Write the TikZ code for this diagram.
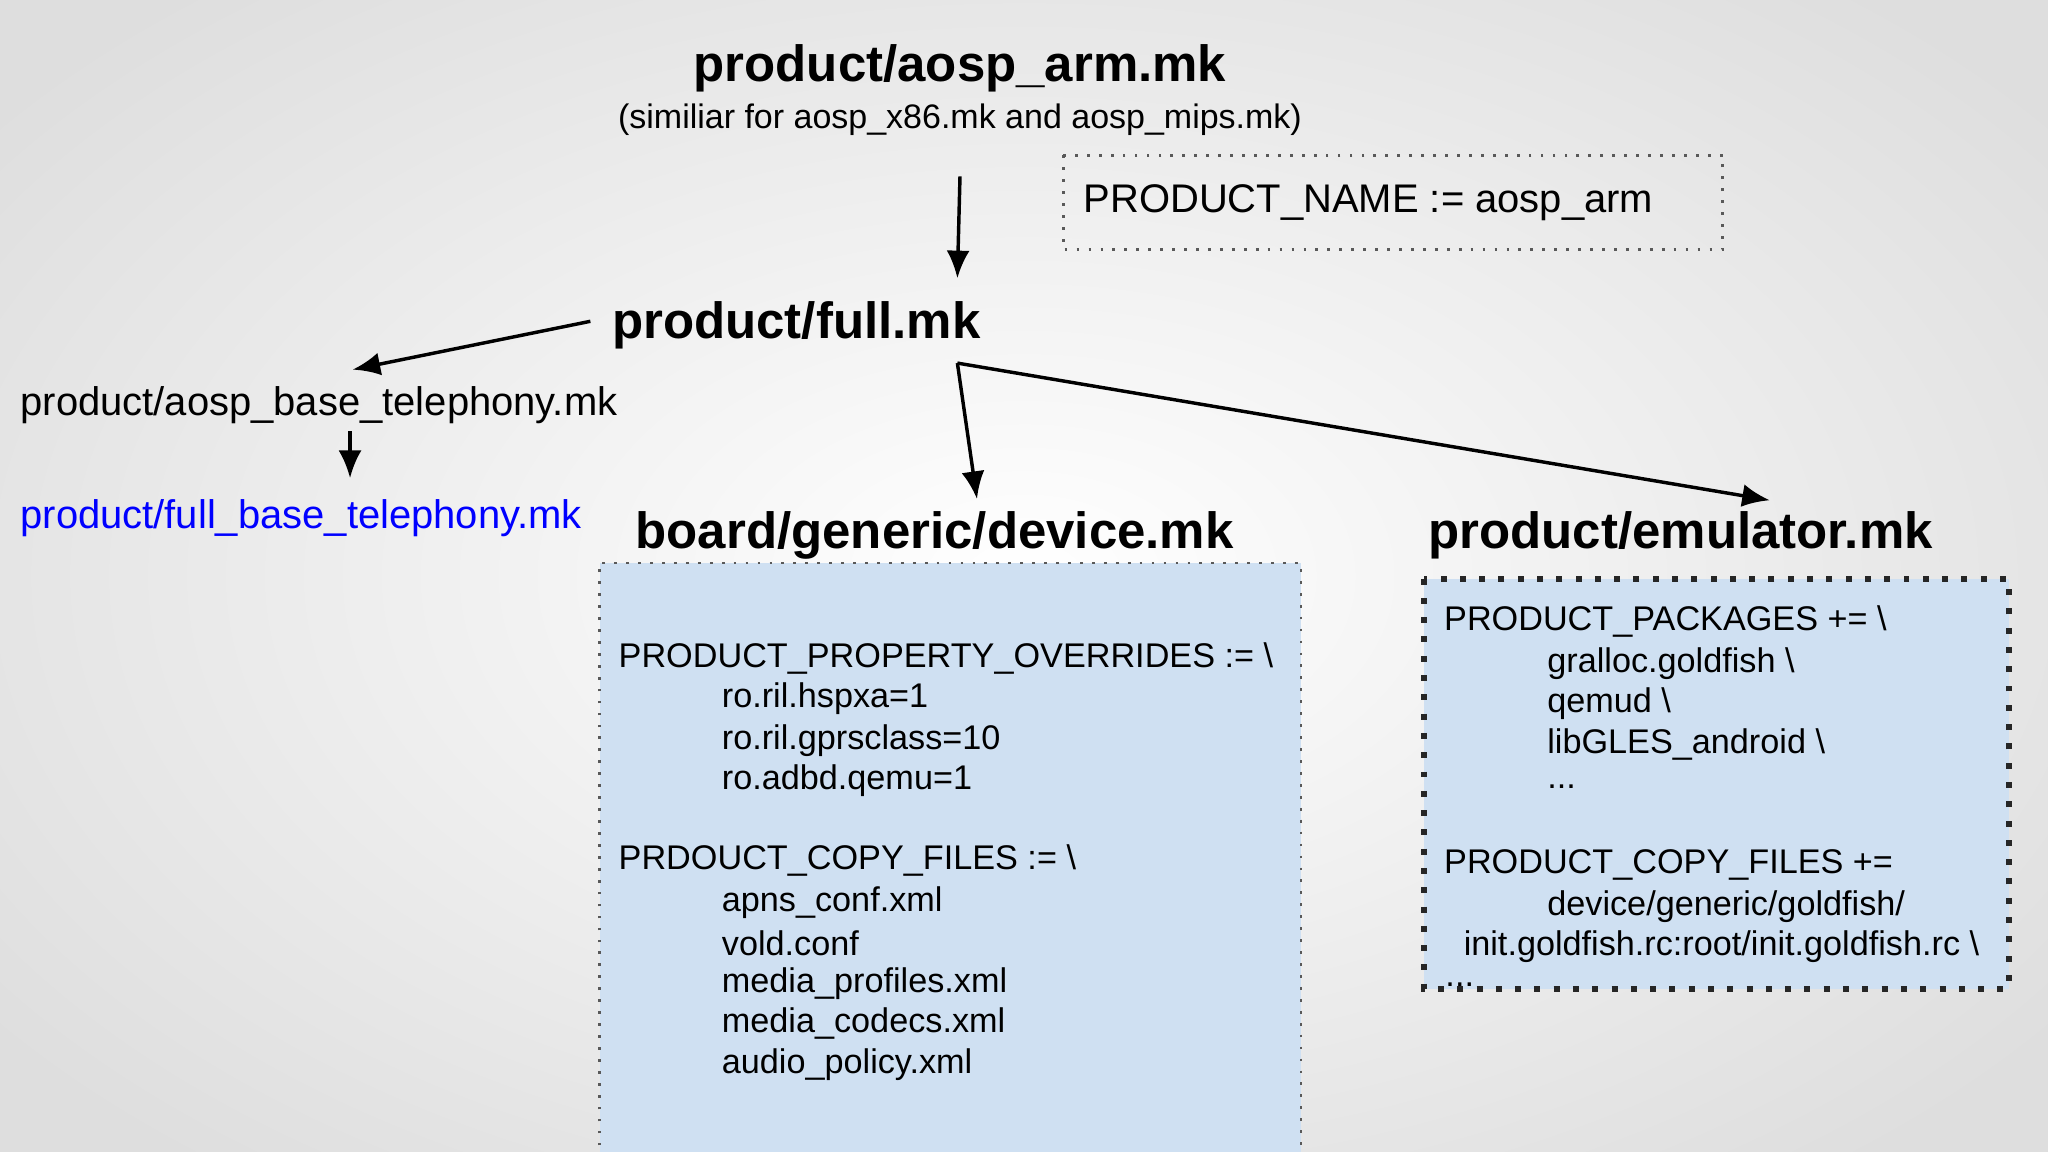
\documentclass[tikz,border=0pt]{standalone}
\usepackage{fontspec}
\setmainfont{Liberation Sans}
\usetikzlibrary{arrows.meta}
\definecolor{boxfill}{RGB}{207,224,242}
\definecolor{bgout}{RGB}{222,222,222}
\begin{document}
\begin{tikzpicture}[x=0.01cm,y=-0.01cm,
  title/.style={font=\fontsize{11.1}{13}\selectfont\bfseries,inner sep=0},
  txt/.style={font=\fontsize{8.7}{10}\selectfont,inner sep=0,anchor=west},
  box/.style={font=\fontsize{7.45}{9}\selectfont,inner sep=0,anchor=west},
  arr/.style={line width=0.75pt,-{Latex[length=6pt,width=5pt]}}]
\useasboundingbox (0,0) rectangle (1568,882);
\shade[inner color=white,outer color=bgout] (-200,-150) rectangle (1768,1032);
\node[title] (arm) at (735,52) {product/aosp\_arm.mk};
\node[inner sep=0,font=\fontsize{7.4}{9}\selectfont] (sub) at (735,92) {(similiar for aosp\_x86.mk and aosp\_mips.mk)};
\draw[dotted,line width=0.6pt,draw=gray!70!black] (814,119) rectangle (1319,191);
\node[txt,font=\fontsize{8.7}{10}\selectfont] (pn) at (829,155) {PRODUCT\_NAME := aosp\_arm};
\node[title,anchor=west] (full) at (468,249) {product/full.mk};
\coordinate (a1) at (735,135);
\coordinate (a2) at (733,213);
\draw[arr] (a1) -- (a2);
\coordinate (f1) at (452,246);
\coordinate (f2) at (270,283);
\draw[arr] (f1) -- (f2);
\node[txt] (base) at (15,310) {product/aosp\_base\_telephony.mk};
\coordinate (b1) at (268,330);
\coordinate (b2) at (268,366);
\draw[arr] (b1) -- (b2);
\node[txt,text=blue] (fbase) at (15,397) {product/full\_base\_telephony.mk};
\coordinate (fs) at (733,278);
\coordinate (d1) at (748,382);
\coordinate (e1) at (1355,383);
\draw[arr] (fs) -- (d1);
\draw[arr] (fs) -- (e1);
\node[title,anchor=west] (dev) at (486,410) {board/generic/device.mk};
\node[title,anchor=west] (emu) at (1093,410) {product/emulator.mk};
\fill[boxfill] (459,431) rectangle (996,950);
\draw[dotted,line width=0.6pt,draw=gray!70!black] (459,950) -- (459,431) -- (996,431) -- (996,950);
\draw[fill=boxfill,dash pattern=on 1.3pt off 2.9pt,line width=1.3pt,draw=black!85] (1090,443) rectangle (1538,757);
\foreach \y/\t in {504/{PRODUCT\_PROPERTY\_OVERRIDES := \textbackslash},659/{PRDOUCT\_COPY\_FILES := \textbackslash}}
  \node[box] at (473,\y) {\t};
\foreach \y/\t in {535/{ro.ril.hspxa=1},567/{ro.ril.gprsclass=10},598/{ro.adbd.qemu=1},691/{apns\_conf.xml},722/{vold.conf},753/{media\_profiles.xml},784/{media\_codecs.xml},815/{audio\_policy.xml}}
  \node[box] at (552,\y) {\t};
\node[box] at (1105,476) {PRODUCT\_PACKAGES += \textbackslash};
\foreach \y/\t in {508/{gralloc.goldfish \textbackslash},539/{qemud \textbackslash},570/{libGLES\_android \textbackslash},602/{...},694/{device/generic/goldfish/}}
  \node[box] at (1184,\y) {\t};
\node[box] at (1105,662) {PRODUCT\_COPY\_FILES +=};
\node[box] at (1120,725) {init.goldfish.rc:root/init.goldfish.rc \textbackslash};
\node[box] at (1106,754) {...};
\end{tikzpicture}
\end{document}
